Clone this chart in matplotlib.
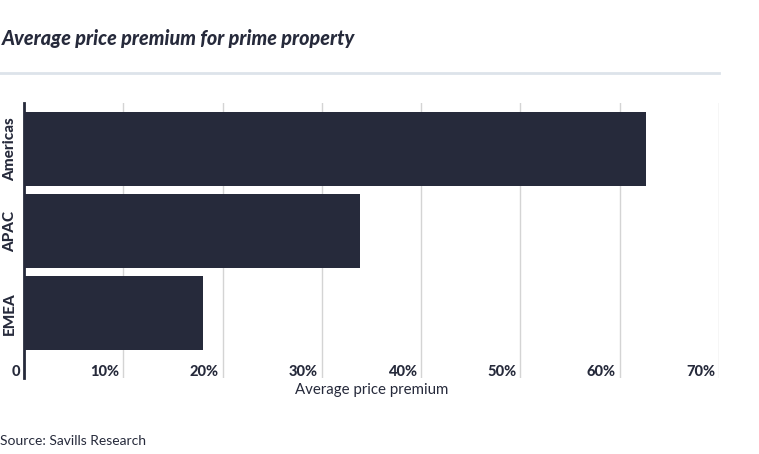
import matplotlib
matplotlib.use("Agg")
import matplotlib.pyplot as plt
import matplotlib.transforms as mtransforms
from matplotlib.lines import Line2D

categories = ["Americas", "APAC", "EMEA"]
values = [62.6, 33.8, 18.0]
xticks = [0, 10, 20, 30, 40, 50, 60, 70]
xticklabels = ["0", "10%", "20%", "30%", "40%", "50%", "60%", "70%"]

DARK = "#262a3b"
GRID = "#d4d4d4"

W, H = 759, 454
fig = plt.figure(figsize=(W / 100, H / 100), dpi=100)
fig.patch.set_facecolor("white")

left, right, top, bottom = 24, 719, 103, 378
ax = fig.add_axes([left / W, 1 - bottom / H, (right - left) / W, (bottom - top) / H])

ypos = list(range(len(categories)))
ax.barh(ypos, values, height=0.9, color=DARK, zorder=3)
ax.set_xlim(0, 70)
ax.set_ylim(2.79, -0.56)

ax.set_yticks(ypos)
ax.set_yticklabels(categories, rotation=90, va="center", fontsize=11,
                   fontweight="black", color=DARK, family="Lato")
ax.tick_params(axis="y", length=0, pad=5)

ax.set_xticks(xticks)
ax.set_xticklabels(xticklabels, ha="right", fontsize=10.5, fontweight="black",
                   color=DARK, family="Lato")
ax.tick_params(axis="x", length=0, pad=-9.5)
offset = mtransforms.ScaledTranslation(-4 / 100, 0, fig.dpi_scale_trans)
for lbl in ax.get_xticklabels():
    lbl.set_transform(lbl.get_transform() + offset)

ax.grid(axis="x", color=GRID, linewidth=1, zorder=0)
ax.grid(axis="y", visible=False)
for s in ["top", "right", "bottom"]:
    ax.spines[s].set_visible(False)
ax.spines["left"].set_color(DARK)
ax.spines["left"].set_linewidth(2)
ax.spines["left"].set_zorder(4)

ax.set_xlabel("Average price premium", fontsize=10.8, color=DARK, family="Lato", labelpad=3)

fig.text(2 / W, 1 - 38 / H, "Average price premium for prime property", fontsize=14.2,
         fontweight="black", fontstyle="italic", color=DARK, family="Lato", va="center")
fig.add_artist(Line2D([0, 719 / W], [1 - 73 / H, 1 - 73 / H], color="#dde3ea",
                      linewidth=2, transform=fig.transFigure))
fig.text(0, 1 - 441 / H, "Source: Savills Research", fontsize=10, color=DARK,
         family="Lato", va="center")

fig.savefig("out.png", dpi=100, facecolor="white")
